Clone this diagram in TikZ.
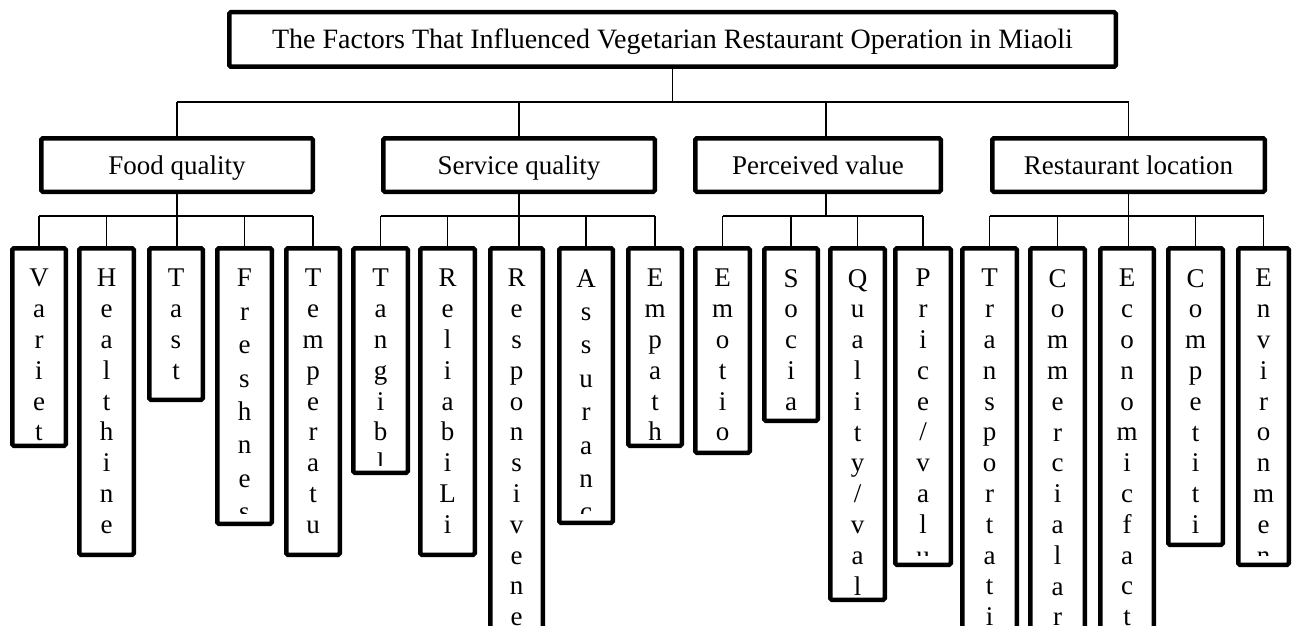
\documentclass[tikz,border=0pt]{standalone}
\usepackage{fontspec}
\setmainfont{Liberation Serif}
\tikzset{
  box/.style={draw, line width=4.5pt, rounded corners=1.5pt, inner sep=0pt, fill=white,
    text height=18pt, text depth=0pt},
  lbl/.style={font=\fontsize{27}{32}\selectfont},
  conn/.style={line width=1.4pt},
  leaf/.style={draw, line width=4.5pt, rounded corners=1.5pt, inner sep=0pt},
  leaftext/.style={anchor=north, inner sep=0pt, align=center},
}
% name, x-left, x-right, bottom, clip bottom, line spacing, text
\newcommand\leafbox[7]{%
  \begin{scope}
    \clip (#2+4.5,249) rectangle (#3-4.5,#5);
    \node[leaftext, font=\fontsize{27}{#6}\selectfont] (#1-t) at ({(#2+#3)/2},269) {#7};
  \end{scope}
  \node[leaf, minimum width={#3-#2-4.5}, minimum height={#4-246-4.5}] (#1) at ({(#2+#3)/2},{(246+#4)/2}) {};
}
\begin{document}
\begin{tikzpicture}[x=1pt,y=-1pt]
\useasboundingbox (0,0) rectangle (1293,626);
\clip (0,0) rectangle (1293,626);
\fill[white] (0,0) rectangle (1293,626);

% title and category boxes
\node[box, font=\fontsize{28}{32}\selectfont, minimum width=886.5pt, minimum height=54.5pt] (title) at (672.5,39.5)
  {The Factors That Influenced Vegetarian Restaurant Operation in Miaoli};
\node[box, lbl, minimum width=271.5pt, minimum height=53.5pt] (fq) at (177,165) {Food quality};
\node[box, lbl, minimum width=271.5pt, minimum height=53.5pt] (sq) at (519,165) {Service quality};
\node[box, lbl, minimum width=245.5pt, minimum height=53.5pt] (pv) at (818,165) {Perceived value};
\node[box, lbl, minimum width=272.5pt, minimum height=53.5pt] (lq) at (1128.5,165) {Restaurant location};

% leaves: Food quality
\leafbox{variet}{10}{68}{448}{446}{30.8}{V\\a\\r\\i\\e\\t}
\leafbox{healthine}{77}{136}{557}{553}{30.8}{H\\e\\a\\l\\t\\h\\i\\n\\e}
\leafbox{tast}{147}{205}{402}{398}{30.8}{T\\a\\s\\t}
\leafbox{freshnes}{215}{274}{526}{513}{33.4}{F\\r\\e\\s\\h\\n\\e\\s}
\leafbox{temperatu}{284}{342}{557}{553}{30.8}{T\\e\\m\\p\\e\\r\\a\\t\\u}
% leaves: Service quality
\leafbox{tangibl}{351}{410}{475}{465}{30.8}{T\\a\\n\\g\\i\\b\\l}
\leafbox{reliabili}{418}{477}{557}{553}{30.8}{R\\e\\l\\i\\a\\b\\i\\L\\i}
\leafbox{responsivene}{488}{545}{700}{626}{30.8}{R\\e\\s\\p\\o\\n\\s\\i\\v\\e\\n\\e}
\leafbox{assuranc}{557}{615}{525}{513}{33.4}{A\\s\\s\\u\\r\\a\\n\\c}
\leafbox{empath}{626}{684}{448}{446}{30.8}{E\\m\\p\\a\\t\\h}
% leaves: Perceived value
\leafbox{emotio}{693}{752}{455}{451}{30.8}{E\\m\\o\\t\\i\\o}
\leafbox{socia}{762}{820}{423}{419}{30.8}{S\\o\\c\\i\\a}
\leafbox{quality}{828}{887}{602}{598}{30.8}{Q\\u\\a\\l\\i\\t\\y\\/\\v\\a\\l}
\leafbox{price}{893}{953}{567}{555}{30.8}{P\\r\\i\\c\\e\\/\\v\\a\\l\\u}
% leaves: Restaurant location
\leafbox{transportati}{960}{1019}{700}{626}{30.8}{T\\r\\a\\n\\s\\p\\o\\r\\t\\a\\t\\i}
\leafbox{commercialar}{1028}{1087}{700}{626}{30.8}{C\\o\\m\\m\\e\\r\\c\\i\\a\\l\\a\\r}
\leafbox{economicfact}{1098}{1156}{700}{626}{30.8}{E\\c\\o\\n\\o\\m\\i\\c\\f\\a\\c\\t}
\leafbox{competiti}{1166}{1225}{547}{543}{30.8}{C\\o\\m\\p\\e\\t\\i\\t\\i}
\leafbox{environmen}{1236}{1291}{567}{555}{30.8}{E\\n\\v\\i\\r\\o\\n\\m\\e\\n}

% helper coordinates
\coordinate (l1bar) at (0,102);
\coordinate (gbar) at (0,216);
\coordinate (pvtop) at ([xshift=8pt]pv.north);
\coordinate (pvbot) at ([xshift=8pt]pv.south);

% top level connectors
\draw[conn] (title.south) -- (title.south |- l1bar);
\draw[conn] (fq.north |- l1bar) -- (lq.north |- l1bar);
\foreach \n in {fq,sq,lq} \draw[conn] (\n.north) -- (\n.north |- l1bar);
\draw[conn] (pvtop) -- (pvtop |- l1bar);

% Food quality
\draw[conn] (fq.south) -- (fq.south |- tast.north);
\draw[conn] (variet.north |- gbar) -- (temperatu.north |- gbar);
\foreach \n in {variet,healthine,freshnes,temperatu} \draw[conn] (\n.north) -- (\n.north |- gbar);
% Service quality
\draw[conn] (sq.south) -- (sq.south |- responsivene.north);
\draw[conn] (tangibl.north |- gbar) -- (empath.north |- gbar);
\foreach \n in {tangibl,reliabili,assuranc,empath} \draw[conn] (\n.north) -- (\n.north |- gbar);
% Perceived value
\draw[conn] (pvbot) -- (pvbot |- gbar);
\draw[conn] (emotio.north |- gbar) -- (price.north |- gbar);
\foreach \n in {emotio,socia,quality,price} \draw[conn] (\n.north) -- (\n.north |- gbar);
% Restaurant location
\draw[conn] (lq.south) -- (lq.south |- economicfact.north);
\draw[conn] (transportati.north |- gbar) -- (environmen.north |- gbar);
\foreach \n in {transportati,commercialar,competiti,environmen} \draw[conn] (\n.north) -- (\n.north |- gbar);
\end{tikzpicture}
\end{document}
